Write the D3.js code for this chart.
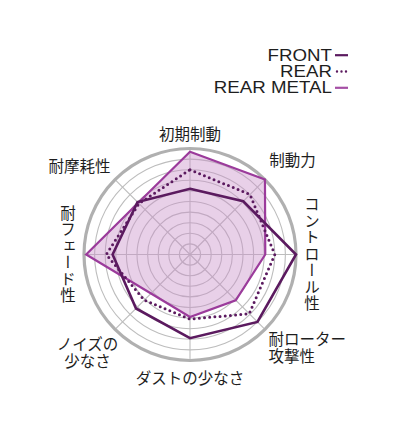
<!DOCTYPE html>
<html>
<head>
<meta charset="utf-8">
<script src="https://cdn.jsdelivr.net/npm/d3@7"></script>
<style>
  body { margin: 0; background: #fff; }
  svg { display: block; }
  .lbl { font-family: "Noto Sans CJK JP", sans-serif; font-size: 15.5px; fill: #1e1e1e; }
  .vert { writing-mode: vertical-rl; letter-spacing: 1px; }
  .legend text { font-family: "Liberation Sans", Arial, sans-serif; font-size: 16px; fill: #1e1e1e; }
</style>
</head>
<body>
<div id="chart"></div>
<script>
// axes, clockwise from the top
const axes = ["初期制動", "制動力", "コントロール性", "耐ローター\n攻撃性",
    "ダストの少なさ", "ノイズの\n少なさ", "耐フェード性", "耐摩耗性"];
const seriesNames = ["FRONT", "REAR", "REAR METAL"];
const front = [6.2, 7.1, 10, 9.0, 7.9, 7.2, 7.3, 7.0];
const rear = [8.0, 8.0, 8.0, 7.9, 6.1, 6.1, 7.9, 6.8];
const rearMetal = [9.7, 10, 7.1, 6.1, 5.9, 5.2, 9.8, 6.9];
const ringValues = [1, 2, 3, 4, 5, 6, 7, 8, 9];

const width = 400, height = 431;
const cx = 190, cy = 254.5, R = 106;
const DARK = "#5b1a5f", METAL = "#9b3b9b";

const svg = d3.select("#chart").append("svg")
    .attr("width", width)
    .attr("height", height);

const g = svg.append("g").attr("transform", `translate(${cx},${cy})`);

const r = d3.scaleLinear().domain([0, 10]).range([0, R]);
const angle = d3.scaleLinear().domain([0, axes.length]).range([0, 2 * Math.PI]);

// grid rings
g.selectAll(".ring")
    .data(ringValues)
    .enter()
    .append("circle")
    .attr("class", "ring")
    .attr("r", (d) => r(d))
    .attr("fill", "none")
    .attr("stroke", "#bdbdbd")
    .attr("stroke-width", 1.1);

// spokes
g.selectAll(".spoke")
    .data(axes)
    .enter()
    .append("line")
    .attr("class", "spoke")
    .attr("x1", 0).attr("y1", 0)
    .attr("x2", (d, i) => r(10) * Math.sin(angle(i)))
    .attr("y2", (d, i) => -r(10) * Math.cos(angle(i)))
    .attr("stroke", "#bdbdbd")
    .attr("stroke-width", 1.1);

const radar = d3.lineRadial()
    .angle((d, i) => angle(i))
    .radius((d) => r(d))
    .curve(d3.curveLinearClosed);

// rear metal fill sits over the grid, lines still show through
g.append("path")
    .attr("d", radar(rearMetal))
    .attr("fill", "#c98ec9")
    .attr("fill-opacity", 0.42);

// outer ring
g.append("circle")
    .attr("r", r(10))
    .attr("fill", "none")
    .attr("stroke", "#b0b0b0")
    .attr("stroke-width", 3.2);

g.append("path")
    .attr("d", radar(rearMetal))
    .attr("fill", "none")
    .attr("stroke", METAL)
    .attr("stroke-width", 2.2)
    .attr("stroke-linejoin", "miter");

g.append("path")
    .attr("d", radar(rear))
    .attr("fill", "none")
    .attr("stroke", DARK)
    .attr("stroke-width", 3)
    .attr("stroke-linecap", "round")
    .attr("stroke-dasharray", "0,5.2");

g.append("path")
    .attr("d", radar(front))
    .attr("fill", "none")
    .attr("stroke", DARK)
    .attr("stroke-width", 2.6)
    .attr("stroke-linejoin", "miter");

// axis labels
const nudge = [[0, 2], [2, 6], [0, 0], [-22, -7], [0, 2], [-2, -2], [0, 0], [-10, 12]];
axes.forEach((name, i) => {
    const a = angle(i);
    const lr = i % 2 === 0 ? 122 : 142;
    const x = lr * Math.sin(a) + nudge[i][0];
    const y = -lr * Math.cos(a) + nudge[i][1];
    const vertical = i === 2 || i === 6;
    const t = g.append("text")
        .attr("class", vertical ? "lbl vert" : "lbl")
        .attr("text-anchor", i === 3 ? "start" : "middle")
        .attr("x", x)
        .attr("y", y);
    if (vertical) {
        t.text(name);
    } else {
        const lines = name.split("\n");
        lines.forEach((ln, j) => {
            t.append("tspan")
                .attr("x", x)
                .attr("y", y + 5.5 + (j - (lines.length - 1) / 2) * 17.5)
                .text(ln);
        });
    }
});

// legend
const legend = svg.append("g").attr("class", "legend");
seriesNames.forEach((name, i) => {
    const by = 60.7 + i * 16.3;
    legend.append("g")
        .attr("transform", `translate(332,${by}) scale(1.17,1)`)
        .append("text")
        .attr("text-anchor", "end")
        .text(name);
    legend.append("line")
        .attr("x1", i === 1 ? 337 : 335)
        .attr("x2", 348)
        .attr("y1", by - 5.5)
        .attr("y2", by - 5.5)
        .attr("stroke", i === 2 ? "#a54fa5" : DARK)
        .attr("stroke-width", i === 1 ? 2.4 : 2.2)
        .attr("stroke-linecap", i === 1 ? "round" : "butt")
        .attr("stroke-dasharray", i === 1 ? "0,4.5" : null);
});
</script>
</body>
</html>
